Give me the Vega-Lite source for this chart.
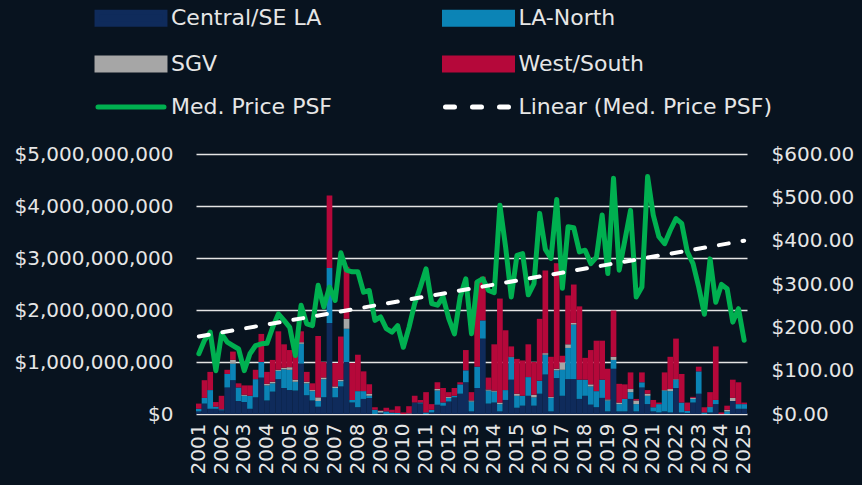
{
  "$schema": "https://vega.github.io/schema/vega-lite/v6.json",
  "width": 551,
  "height": 260,
  "autosize": {"type": "none"},
  "padding": {"left": 196, "top": 154, "right": 115, "bottom": 71},
  "background": "#08131f",
  "config": {"view": {"stroke": null}, "font": "DejaVu Sans"},
  "data": {"values": [
    {"q":"2001-1","Central/SE LA":50,"LA-North":50,"SGV":0,"West/South":100,"p":139},
    {"q":"2001-2","Central/SE LA":200,"LA-North":110,"SGV":0,"West/South":340,"p":170},
    {"q":"2001-3","Central/SE LA":100,"LA-North":360,"SGV":0,"West/South":350,"p":189},
    {"q":"2001-4","Central/SE LA":100,"LA-North":40,"SGV":0,"West/South":90,"p":100},
    {"q":"2002-1","Central/SE LA":70,"LA-North":20,"SGV":0,"West/South":260,"p":185},
    {"q":"2002-2","Central/SE LA":510,"LA-North":260,"SGV":0,"West/South":80,"p":166},
    {"q":"2002-3","Central/SE LA":650,"LA-North":320,"SGV":70,"West/South":160,"p":158},
    {"q":"2002-4","Central/SE LA":250,"LA-North":260,"SGV":0,"West/South":80,"p":150},
    {"q":"2003-1","Central/SE LA":230,"LA-North":120,"SGV":20,"West/South":180,"p":100},
    {"q":"2003-2","Central/SE LA":100,"LA-North":250,"SGV":0,"West/South":200,"p":139},
    {"q":"2003-3","Central/SE LA":320,"LA-North":350,"SGV":0,"West/South":180,"p":158},
    {"q":"2003-4","Central/SE LA":700,"LA-North":300,"SGV":0,"West/South":540,"p":162},
    {"q":"2004-1","Central/SE LA":260,"LA-North":290,"SGV":30,"West/South":230,"p":163},
    {"q":"2004-2","Central/SE LA":430,"LA-North":160,"SGV":30,"West/South":420,"p":200},
    {"q":"2004-3","Central/SE LA":670,"LA-North":160,"SGV":20,"West/South":740,"p":231},
    {"q":"2004-4","Central/SE LA":500,"LA-North":360,"SGV":30,"West/South":450,"p":216},
    {"q":"2005-1","Central/SE LA":460,"LA-North":390,"SGV":50,"West/South":330,"p":200},
    {"q":"2005-2","Central/SE LA":450,"LA-North":170,"SGV":40,"West/South":470,"p":135},
    {"q":"2005-3","Central/SE LA":970,"LA-North":380,"SGV":30,"West/South":210,"p":251},
    {"q":"2005-4","Central/SE LA":360,"LA-North":230,"SGV":30,"West/South":190,"p":208},
    {"q":"2006-1","Central/SE LA":260,"LA-North":180,"SGV":20,"West/South":130,"p":204},
    {"q":"2006-2","Central/SE LA":140,"LA-North":110,"SGV":70,"West/South":1180,"p":297},
    {"q":"2006-3","Central/SE LA":320,"LA-North":350,"SGV":30,"West/South":300,"p":247},
    {"q":"2006-4","Central/SE LA":1750,"LA-North":1060,"SGV":0,"West/South":1390,"p":293},
    {"q":"2007-1","Central/SE LA":320,"LA-North":180,"SGV":30,"West/South":450,"p":262},
    {"q":"2007-2","Central/SE LA":530,"LA-North":100,"SGV":30,"West/South":830,"p":372},
    {"q":"2007-3","Central/SE LA":1000,"LA-North":640,"SGV":190,"West/South":1000,"p":332},
    {"q":"2007-4","Central/SE LA":220,"LA-North":50,"SGV":0,"West/South":710,"p":328},
    {"q":"2008-1","Central/SE LA":130,"LA-North":310,"SGV":0,"West/South":700,"p":328},
    {"q":"2008-2","Central/SE LA":290,"LA-North":150,"SGV":0,"West/South":380,"p":281},
    {"q":"2008-3","Central/SE LA":310,"LA-North":40,"SGV":40,"West/South":180,"p":285},
    {"q":"2008-4","Central/SE LA":0,"LA-North":80,"SGV":0,"West/South":50,"p":216},
    {"q":"2009-1","Central/SE LA":20,"LA-North":10,"SGV":30,"West/South":10,"p":224},
    {"q":"2009-2","Central/SE LA":0,"LA-North":50,"SGV":0,"West/South":70,"p":197},
    {"q":"2009-3","Central/SE LA":0,"LA-North":30,"SGV":0,"West/South":50,"p":189},
    {"q":"2009-4","Central/SE LA":0,"LA-North":20,"SGV":0,"West/South":130,"p":204},
    {"q":"2010-1","Central/SE LA":0,"LA-North":0,"SGV":0,"West/South":30,"p":154},
    {"q":"2010-2","Central/SE LA":0,"LA-North":10,"SGV":0,"West/South":140,"p":200},
    {"q":"2010-3","Central/SE LA":220,"LA-North":0,"SGV":0,"West/South":130,"p":255},
    {"q":"2010-4","Central/SE LA":200,"LA-North":20,"SGV":0,"West/South":50,"p":293},
    {"q":"2011-1","Central/SE LA":0,"LA-North":30,"SGV":0,"West/South":390,"p":335},
    {"q":"2011-2","Central/SE LA":30,"LA-North":50,"SGV":0,"West/South":110,"p":255},
    {"q":"2011-3","Central/SE LA":180,"LA-North":270,"SGV":30,"West/South":130,"p":251},
    {"q":"2011-4","Central/SE LA":160,"LA-North":60,"SGV":0,"West/South":280,"p":270},
    {"q":"2012-1","Central/SE LA":240,"LA-North":70,"SGV":20,"West/South":90,"p":220},
    {"q":"2012-2","Central/SE LA":320,"LA-North":30,"SGV":0,"West/South":150,"p":185},
    {"q":"2012-3","Central/SE LA":390,"LA-North":180,"SGV":0,"West/South":40,"p":270},
    {"q":"2012-4","Central/SE LA":610,"LA-North":230,"SGV":0,"West/South":390,"p":312},
    {"q":"2013-1","Central/SE LA":50,"LA-North":190,"SGV":20,"West/South":160,"p":185},
    {"q":"2013-2","Central/SE LA":500,"LA-North":410,"SGV":0,"West/South":1640,"p":305},
    {"q":"2013-3","Central/SE LA":1450,"LA-North":350,"SGV":0,"West/South":840,"p":312},
    {"q":"2013-4","Central/SE LA":200,"LA-North":250,"SGV":20,"West/South":230,"p":285},
    {"q":"2014-1","Central/SE LA":220,"LA-North":210,"SGV":20,"West/South":890,"p":280},
    {"q":"2014-2","Central/SE LA":50,"LA-North":140,"SGV":30,"West/South":2000,"p":482},
    {"q":"2014-3","Central/SE LA":270,"LA-North":190,"SGV":0,"West/South":1150,"p":386},
    {"q":"2014-4","Central/SE LA":660,"LA-North":430,"SGV":10,"West/South":200,"p":270},
    {"q":"2015-1","Central/SE LA":120,"LA-North":230,"SGV":40,"West/South":670,"p":366},
    {"q":"2015-2","Central/SE LA":160,"LA-North":190,"SGV":0,"West/South":680,"p":370},
    {"q":"2015-3","Central/SE LA":350,"LA-North":360,"SGV":0,"West/South":630,"p":275},
    {"q":"2015-4","Central/SE LA":160,"LA-North":160,"SGV":50,"West/South":630,"p":301},
    {"q":"2016-1","Central/SE LA":390,"LA-North":250,"SGV":0,"West/South":1190,"p":463},
    {"q":"2016-2","Central/SE LA":760,"LA-North":380,"SGV":30,"West/South":1590,"p":380},
    {"q":"2016-3","Central/SE LA":50,"LA-North":260,"SGV":20,"West/South":770,"p":359},
    {"q":"2016-4","Central/SE LA":690,"LA-North":150,"SGV":30,"West/South":2030,"p":495},
    {"q":"2017-1","Central/SE LA":350,"LA-North":500,"SGV":140,"West/South":130,"p":290},
    {"q":"2017-2","Central/SE LA":670,"LA-North":600,"SGV":70,"West/South":940,"p":432},
    {"q":"2017-3","Central/SE LA":670,"LA-North":1050,"SGV":30,"West/South":740,"p":430},
    {"q":"2017-4","Central/SE LA":290,"LA-North":370,"SGV":0,"West/South":1410,"p":374},
    {"q":"2018-1","Central/SE LA":350,"LA-North":310,"SGV":0,"West/South":420,"p":378},
    {"q":"2018-2","Central/SE LA":180,"LA-North":350,"SGV":40,"West/South":660,"p":347},
    {"q":"2018-3","Central/SE LA":130,"LA-North":310,"SGV":0,"West/South":970,"p":362},
    {"q":"2018-4","Central/SE LA":310,"LA-North":350,"SGV":0,"West/South":750,"p":459},
    {"q":"2019-1","Central/SE LA":50,"LA-North":210,"SGV":20,"West/South":590,"p":324},
    {"q":"2019-2","Central/SE LA":870,"LA-North":170,"SGV":60,"West/South":890,"p":544},
    {"q":"2019-3","Central/SE LA":50,"LA-North":140,"SGV":30,"West/South":360,"p":332},
    {"q":"2019-4","Central/SE LA":50,"LA-North":240,"SGV":0,"West/South":280,"p":401},
    {"q":"2020-1","Central/SE LA":290,"LA-North":130,"SGV":60,"West/South":320,"p":470},
    {"q":"2020-2","Central/SE LA":50,"LA-North":140,"SGV":70,"West/South":30,"p":270},
    {"q":"2020-3","Central/SE LA":510,"LA-North":100,"SGV":0,"West/South":190,"p":293},
    {"q":"2020-4","Central/SE LA":190,"LA-North":160,"SGV":40,"West/South":70,"p":548},
    {"q":"2021-1","Central/SE LA":50,"LA-North":80,"SGV":0,"West/South":140,"p":459},
    {"q":"2021-2","Central/SE LA":30,"LA-North":160,"SGV":0,"West/South":30,"p":409},
    {"q":"2021-3","Central/SE LA":50,"LA-North":400,"SGV":10,"West/South":340,"p":393},
    {"q":"2021-4","Central/SE LA":30,"LA-North":410,"SGV":40,"West/South":620,"p":424},
    {"q":"2022-1","Central/SE LA":500,"LA-North":160,"SGV":10,"West/South":780,"p":451},
    {"q":"2022-2","Central/SE LA":30,"LA-North":190,"SGV":0,"West/South":550,"p":440},
    {"q":"2022-3","Central/SE LA":20,"LA-North":40,"SGV":0,"West/South":160,"p":374},
    {"q":"2022-4","Central/SE LA":220,"LA-North":70,"SGV":20,"West/South":20,"p":347},
    {"q":"2023-1","Central/SE LA":390,"LA-North":430,"SGV":0,"West/South":90,"p":293},
    {"q":"2023-2","Central/SE LA":0,"LA-North":30,"SGV":0,"West/South":100,"p":230},
    {"q":"2023-3","Central/SE LA":30,"LA-North":100,"SGV":10,"West/South":280,"p":358},
    {"q":"2023-4","Central/SE LA":190,"LA-North":80,"SGV":0,"West/South":1030,"p":258},
    {"q":"2024-1","Central/SE LA":0,"LA-North":0,"SGV":0,"West/South":30,"p":299},
    {"q":"2024-2","Central/SE LA":0,"LA-North":50,"SGV":30,"West/South":80,"p":289},
    {"q":"2024-3","Central/SE LA":250,"LA-North":0,"SGV":60,"West/South":350,"p":212},
    {"q":"2024-4","Central/SE LA":100,"LA-North":90,"SGV":0,"West/South":420,"p":243},
    {"q":"2025-1","Central/SE LA":100,"LA-North":90,"SGV":0,"West/South":30,"p":170}
  ]},
  "resolve": {"scale": {"y": "independent"}},
  "layer": [
    {
      "transform": [{"fold": ["Central/SE LA", "LA-North", "SGV", "West/South"], "as": ["region", "value"]}],
      "mark": {"type": "bar"},
      "encoding": {
        "x": {
          "field": "q", "type": "ordinal",
          "scale": {"paddingInner": 0, "paddingOuter": 0},
          "axis": {
            "title": null, "labelAngle": -90, "labelOverlap": false, "labelBound": false,
            "labelExpr": "slice(datum.value, 5) == '1' ? slice(datum.value, 0, 4) : ''",
            "ticks": false, "domain": false, "grid": false,
            "labelPadding": 9, "labelFontSize": 20, "labelColor": "#e6e6e6", "labelFont": "DejaVu Sans"
          }
        },
        "y": {
          "field": "value", "type": "quantitative",
          "scale": {"domain": [0, 5000], "nice": false},
          "axis": {
            "title": null, "values": [0, 1000, 2000, 3000, 4000, 5000],
            "labelExpr": "'$' + format(datum.value * 1000000, ',')",
            "grid": true, "gridColor": "#e4e4e4", "gridWidth": 1.6,
            "domain": false, "ticks": false, "labelPadding": 23,
            "labelFontSize": 20, "labelColor": "#e6e6e6", "labelFont": "DejaVu Sans"
          }
        },
        "order": {"field": "region", "sort": "ascending"},
        "color": {
          "field": "region", "type": "nominal",
          "scale": {
            "domain": ["Central/SE LA", "LA-North", "SGV", "West/South", "Med. Price PSF", "Linear (Med. Price PSF)"],
            "range": ["#0f2b5b", "#0b84b6", "#a6a6a6", "#b5083a", "#00b050", "#ffffff"]
          },
          "legend": {
            "orient": "none", "legendX": -78.5, "legendY": -149.5, "columns": 2, "direction": "horizontal",
            "columnPadding": 101.5, "rowPadding": 13, "padding": 0,
            "title": null, "labelFont": "DejaVu Sans", "labelFontSize": 22, "labelColor": "#e6e6e6",
            "labelLimit": 400, "labelOffset": 26.5,
            "symbolSize": 484, "symbolStrokeWidth": 5,
            "symbolType": "M-3.09,-0.545L3.09,-0.545L3.09,0.545L-3.09,0.545Z",
            "encode": {
              "symbols": {
                "update": {
                  "shape": {"signal": "datum.value == 'Med. Price PSF' || datum.value == 'Linear (Med. Price PSF)' ? 'M-3.0,0L3.0,0' : 'M-3.09,-0.545L3.09,-0.545L3.09,0.545L-3.09,0.545Z'"},
                  "fill": {"signal": "datum.value == 'Central/SE LA' ? '#0f2b5b' : datum.value == 'LA-North' ? '#0b84b6' : datum.value == 'SGV' ? '#a6a6a6' : datum.value == 'West/South' ? '#b5083a' : 'transparent'"},
                  "stroke": {"signal": "datum.value == 'Med. Price PSF' ? '#00b050' : datum.value == 'Linear (Med. Price PSF)' ? '#ffffff' : 'transparent'"},
                  "strokeDash": {"signal": "datum.value == 'Linear (Med. Price PSF)' ? [9, 18] : [1, 0]"},
                  "strokeCap": {"value": "round"},
                  "opacity": {"value": 1}
                }
              }
            }
          }
        }
      }
    },
    {
      "mark": {"type": "line", "strokeWidth": 5, "strokeJoin": "round", "strokeCap": "round"},
      "encoding": {
        "x": {"field": "q", "type": "ordinal"},
        "y": {
          "field": "p", "type": "quantitative",
          "scale": {"domain": [0, 600], "nice": false},
          "axis": {
            "orient": "right", "title": null, "values": [0, 100, 200, 300, 400, 500, 600],
            "format": "$,.2f", "grid": false, "domain": false, "ticks": false,
            "labelPadding": 24, "labelFontSize": 20, "labelColor": "#e6e6e6", "labelFont": "DejaVu Sans"
          }
        },
        "color": {"datum": "Med. Price PSF"}
      }
    },
    {
      "data": {"values": [{"q": "2001-1", "t": 179}, {"q": "2025-1", "t": 400}]},
      "mark": {"type": "line", "strokeWidth": 4, "strokeDash": [10, 14], "strokeCap": "round"},
      "encoding": {
        "x": {"field": "q", "type": "ordinal"},
        "y": {"field": "t", "type": "quantitative", "scale": {"domain": [0, 600], "nice": false}, "axis": null},
        "color": {"datum": "Linear (Med. Price PSF)"}
      }
    }
  ]
}
